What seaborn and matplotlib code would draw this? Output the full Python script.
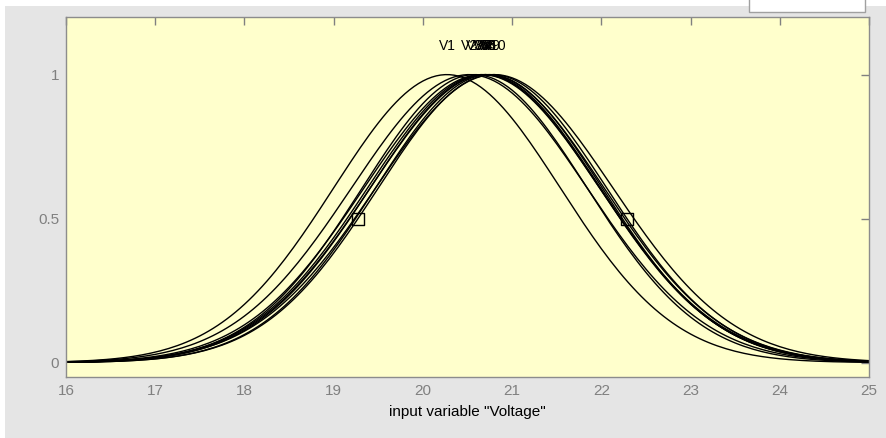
import numpy as np
import pandas as pd
import matplotlib
matplotlib.use("Agg")
import matplotlib.pyplot as plt
from matplotlib.patches import Rectangle
import seaborn as sns

# Gaussian membership functions of input "Voltage"
names = ["V1", "V2", "V3", "V4", "V5", "V6", "V7", "V8", "V9", "V10"]
centers = [20.27, 20.52, 20.58, 20.70, 20.66, 20.74, 20.68, 20.72, 20.78, 20.80]
sigmas = [1.27, 1.32, 1.26, 1.29, 1.32, 1.27, 1.30, 1.31, 1.28, 1.33]
selected = "V9"   # the MF drawn with square handles

x_range = (16, 25)
x_ticks = [16, 17, 18, 19, 20, 21, 22, 23, 24, 25]
y_ticks = [0, 0.5, 1]
y_tick_labels = ["0", "0.5", "1"]

# evaluate gaussmf for each set
xs = np.linspace(x_range[0], x_range[1], 181)
rows = []
for n, c, s in zip(names, centers, sigmas):
    for xv in xs:
        rows.append({"x": xv, "mf": n, "y": np.exp(-((xv - c) ** 2) / (2 * s ** 2))})
df = pd.DataFrame(rows)

sns.set_style("white")
plt.rcParams["font.family"] = ["Liberation Sans", "DejaVu Sans"]

fig = plt.figure(figsize=(8.86, 4.38), dpi=100)
fig.patch.set_facecolor("white")
# grey window background and the small white control box at top right
fig.patches.append(Rectangle((5 / 886, 0), 1, 1 - 6 / 438, transform=fig.transFigure,
                             facecolor="#e5e5e5", edgecolor="none", zorder=-10))
fig.patches.append(Rectangle((749 / 886, 1 - 12 / 438), 116 / 886, 14 / 438,
                             transform=fig.transFigure, facecolor="white",
                             edgecolor="#a0a0a0", lw=1, zorder=-5))

ax = fig.add_axes([66 / 886, 1 - 377 / 438, (869 - 66) / 886, (377 - 17) / 438])
ax.set_facecolor("#ffffcc")

sns.lineplot(data=df, x="x", y="y", hue="mf", palette=["black"] * len(names),
             legend=False, lw=1.0, ax=ax)

# square handles at the half-height points of the selected MF
i = names.index(selected)
half = sigmas[i] * np.sqrt(2 * np.log(2))
handles = pd.DataFrame({"x": [centers[i] - half, centers[i] + half], "y": [0.5, 0.5]})
sns.scatterplot(data=handles, x="x", y="y", marker="s", s=75, facecolor="none",
                edgecolor="black", linewidth=1.0, ax=ax, zorder=5)

for n, c in zip(names, centers):
    ax.text(c, 1.1, n, ha="center", va="center", fontsize=10, color="black")

ax.set_xlim(*x_range)
ax.set_ylim(-0.05, 1.2)
ax.set_xticks(x_ticks)
ax.set_yticks(y_ticks)
ax.set_yticklabels(y_tick_labels)
ax.tick_params(direction="in", length=6, width=1, colors="#808080",
               labelsize=11, top=True, right=True, pad=5)
for sp in ax.spines.values():
    sp.set_color("#8c8c8c")
    sp.set_linewidth(1)
ax.set_xlabel('input variable "Voltage"', fontsize=11, color="black", labelpad=5)
ax.set_ylabel("")

fig.savefig("out.png", dpi=100, facecolor=fig.get_facecolor())
